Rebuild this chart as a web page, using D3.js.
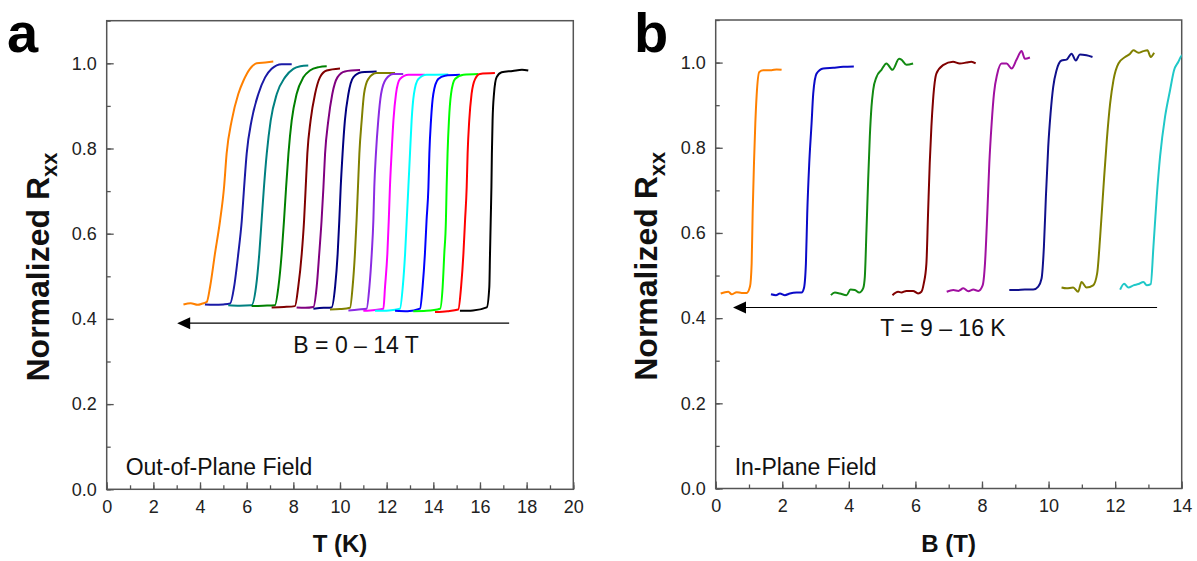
<!DOCTYPE html>
<html>
<head>
<meta charset="utf-8">
<script src="https://cdn.jsdelivr.net/npm/d3@7"></script>
<style>
  html, body { margin: 0; padding: 0; background: #fff; }
  svg { display: block; font-family: "Liberation Sans", Arial, sans-serif; }
</style>
</head>
<body>
<svg id="chart" width="1197" height="561"></svg>
<script>
// ---------------- tick labels ----------------
const tempTicks = [0, 2, 4, 6, 8, 10, 12, 14, 16, 18, 20];
const fieldTicks = [0, 2, 4, 6, 8, 10, 12, 14];
const rTicks = [0.0, 0.2, 0.4, 0.6, 0.8, 1.0];

// ---------------- panel a: R vs T, B = 14 ... 0 T (left to right) ----------------
const oopFields = [14, 13, 12, 11, 10, 9, 8, 7, 6, 5, 4, 3, 2, 1, 0];
const oopColors = ["#ff8000", "#1a1aa6", "#008080", "#008000", "#800000", "#800080", "#000080",
                   "#808000", "#8a2be2", "#ff00ff", "#00ffff", "#0000ff", "#00ff00", "#ff0000", "#000000"];
const oop14 = [[3.29,0.434],[3.6,0.437],[3.9,0.433],[4.1,0.436],[4.29,0.440],[4.43,0.475],[4.64,0.553],[4.86,0.631],[5.03,0.709],[5.14,0.788],[5.36,0.866],[5.64,0.928],[5.86,0.959],[6.14,0.987],[6.43,1.0],[6.8,1.002],[7.14,1.004]];
const oop13 = [[4.21,0.434],[4.6,0.433],[5.0,0.434],[5.29,0.436],[5.46,0.475],[5.64,0.553],[5.79,0.631],[5.89,0.709],[6.0,0.788],[6.21,0.866],[6.5,0.928],[6.79,0.967],[7.07,0.987],[7.5,0.998],[7.93,0.998]];
const oop12 = [[5.21,0.432],[5.7,0.431],[6.21,0.432],[6.4,0.475],[6.54,0.553],[6.64,0.631],[6.74,0.709],[6.86,0.788],[7.03,0.866],[7.29,0.928],[7.64,0.967],[8.0,0.987],[8.3,0.993],[8.64,0.995]];
const oop11 = [[6.21,0.430],[6.7,0.431],[7.21,0.432],[7.36,0.475],[7.5,0.553],[7.6,0.631],[7.69,0.709],[7.79,0.788],[7.93,0.866],[8.14,0.928],[8.43,0.967],[8.71,0.983],[9.1,0.991],[9.43,0.993]];
const oop10 = [[7.07,0.427],[7.6,0.428],[8.07,0.430],[8.21,0.475],[8.36,0.553],[8.46,0.631],[8.53,0.709],[8.6,0.788],[8.74,0.866],[8.93,0.928],[9.14,0.967],[9.43,0.983],[10.0,0.988]];
const oop9 = [[8.14,0.427],[8.5,0.426],[8.86,0.428],[9.0,0.475],[9.11,0.553],[9.21,0.631],[9.29,0.709],[9.36,0.788],[9.5,0.866],[9.67,0.928],[9.89,0.967],[10.21,0.981],[10.86,0.984]];
const oop8 = [[8.86,0.424],[9.3,0.426],[9.64,0.427],[9.79,0.475],[9.9,0.553],[9.97,0.631],[10.03,0.709],[10.11,0.788],[10.21,0.866],[10.36,0.928],[10.57,0.967],[10.93,0.979],[11.57,0.981]];
const oop7 = [[9.57,0.422],[10.0,0.423],[10.43,0.426],[10.54,0.475],[10.64,0.553],[10.71,0.631],[10.77,0.709],[10.83,0.788],[10.93,0.866],[11.03,0.928],[11.21,0.963],[11.57,0.977],[12.36,0.977]];
const oop6 = [[10.36,0.420],[10.8,0.422],[11.14,0.424],[11.26,0.475],[11.36,0.553],[11.43,0.631],[11.47,0.709],[11.54,0.788],[11.64,0.866],[11.76,0.928],[11.97,0.963],[12.29,0.975],[12.71,0.975]];
const oop5 = [[11.0,0.419],[11.5,0.421],[11.86,0.424],[11.93,0.475],[12.03,0.553],[12.09,0.631],[12.14,0.709],[12.21,0.788],[12.29,0.866],[12.4,0.928],[12.57,0.963],[12.93,0.973],[13.64,0.973]];
const oop4 = [[11.5,0.419],[12.1,0.420],[12.57,0.424],[12.69,0.475],[12.79,0.553],[12.86,0.631],[12.93,0.709],[13.0,0.788],[13.07,0.866],[13.17,0.928],[13.36,0.963],[13.71,0.973],[14.64,0.974]];
const oop3 = [[12.36,0.419],[12.9,0.418],[13.43,0.424],[13.54,0.475],[13.64,0.553],[13.71,0.631],[13.79,0.709],[13.83,0.788],[13.9,0.866],[14.0,0.928],[14.21,0.963],[14.5,0.971],[15.14,0.973]];
const oop2 = [[13.14,0.418],[13.7,0.419],[14.29,0.424],[14.4,0.475],[14.47,0.553],[14.54,0.631],[14.57,0.709],[14.61,0.788],[14.67,0.866],[14.76,0.928],[14.93,0.963],[15.29,0.973],[15.93,0.975]];
const oop1 = [[14.07,0.416],[14.6,0.418],[15.07,0.422],[15.19,0.475],[15.29,0.553],[15.36,0.631],[15.43,0.709],[15.47,0.788],[15.54,0.866],[15.64,0.928],[15.79,0.963],[16.0,0.975],[16.64,0.977]];
const oop0 = [[15.14,0.419],[15.7,0.420],[16.29,0.427],[16.4,0.475],[16.43,0.553],[16.46,0.631],[16.49,0.709],[16.51,0.788],[16.54,0.866],[16.6,0.928],[16.71,0.967],[16.93,0.979],[17.4,0.982],[17.8,0.985],[18.07,0.983]];
const oopCurves = [oop14, oop13, oop12, oop11, oop10, oop9, oop8, oop7, oop6, oop5, oop4, oop3, oop2, oop1, oop0];

// ---------------- panel b: R vs B, T = 16 ... 9 K (left to right) ----------------
const ipTemps = [16, 15, 14, 13, 12, 11, 10, 9];
const ipColors = ["#ff8000", "#0a0ac8", "#128a12", "#800000", "#a010a0", "#10108c", "#808000", "#20c8c8"];
const ip16 = [[0.15,0.458],[0.28,0.461],[0.38,0.462],[0.48,0.456],[0.63,0.461],[0.78,0.459],[0.93,0.459],[1.03,0.474],[1.08,0.528],[1.11,0.646],[1.15,0.763],[1.19,0.857],[1.23,0.923],[1.31,0.978],[1.43,0.982],[1.68,0.982],[1.83,0.984],[1.98,0.983]];
const ip15 = [[1.66,0.456],[1.81,0.454],[1.93,0.458],[2.08,0.454],[2.23,0.458],[2.43,0.460],[2.58,0.460],[2.65,0.470],[2.71,0.528],[2.75,0.646],[2.81,0.763],[2.88,0.857],[2.93,0.927],[3.03,0.974],[3.23,0.986],[3.53,0.988],[3.83,0.990],[4.15,0.991]];
const ip14 = [[3.46,0.454],[3.58,0.460],[3.73,0.458],[3.93,0.454],[4.05,0.467],[4.18,0.466],[4.31,0.460],[4.43,0.470],[4.48,0.497],[4.53,0.606],[4.58,0.724],[4.63,0.826],[4.68,0.896],[4.73,0.935],[4.83,0.966],[4.98,0.983],[5.13,0.998],[5.31,0.983],[5.51,1.009],[5.58,1.007],[5.73,0.995],[5.93,0.998]];
const ip13 = [[5.31,0.454],[5.48,0.462],[5.58,0.460],[5.73,0.464],[5.93,0.464],[6.08,0.458],[6.18,0.462],[6.25,0.481],[6.33,0.528],[6.38,0.646],[6.43,0.763],[6.48,0.849],[6.53,0.912],[6.63,0.974],[6.83,0.994],[7.13,1.002],[7.33,0.998],[7.53,1.000],[7.68,1.002],[7.81,0.998]];
const ip12 = [[6.94,0.462],[7.14,0.466],[7.29,0.464],[7.44,0.470],[7.59,0.463],[7.74,0.467],[7.89,0.464],[8.02,0.477],[8.09,0.528],[8.16,0.646],[8.22,0.763],[8.29,0.857],[8.36,0.927],[8.46,0.974],[8.59,0.998],[8.74,0.998],[8.89,0.986],[9.04,1.007],[9.19,1.027],[9.29,1.009],[9.44,1.012]];
const ip11 = [[8.82,0.466],[9.04,0.466],[9.29,0.467],[9.54,0.467],[9.69,0.474],[9.79,0.493],[9.86,0.567],[9.92,0.685],[9.99,0.802],[10.06,0.880],[10.14,0.943],[10.24,0.982],[10.39,1.005],[10.54,1.007],[10.69,1.021],[10.82,1.005],[10.94,1.019],[11.14,1.017],[11.32,1.013]];
const ip10 = [[10.39,0.472],[10.54,0.470],[10.74,0.472],[10.89,0.462],[10.99,0.485],[11.14,0.472],[11.34,0.477],[11.46,0.505],[11.55,0.591],[11.65,0.708],[11.75,0.818],[11.85,0.904],[11.95,0.959],[12.10,0.998],[12.30,1.013],[12.45,1.021],[12.55,1.029],[12.70,1.023],[12.85,1.027],[12.97,1.029],[13.07,1.013],[13.17,1.023]];
const ip9 = [[12.15,0.467],[12.27,0.481],[12.40,0.472],[12.55,0.477],[12.70,0.480],[12.85,0.485],[12.95,0.477],[13.07,0.480],[13.15,0.567],[13.25,0.685],[13.35,0.779],[13.50,0.873],[13.65,0.935],[13.77,0.982],[13.90,1.002],[13.97,1.013],[14.05,1.020]];
const ipCurves = [ip16, ip15, ip14, ip13, ip12, ip11, ip10, ip9];

// ---------------- drawing ----------------
const svg = d3.select("#chart");
const FONT = '"Liberation Sans", Arial, sans-serif';
const axisColor = "#555";

function panel(cfg) {
  const x = d3.scaleLinear().domain(cfg.xDomain).range([cfg.left, cfg.right]);
  const y = d3.scaleLinear().domain([0, 1.1]).range([cfg.bottom, cfg.top]);
  const g = svg.append("g");

  const clipId = "clip-" + cfg.id;
  svg.append("clipPath").attr("id", clipId).append("rect")
    .attr("x", cfg.left).attr("y", cfg.top)
    .attr("width", cfg.right - cfg.left).attr("height", cfg.bottom - cfg.top);

  // minor ticks
  const xMinor = d3.range(cfg.xDomain[0], cfg.xDomain[1] + 0.001, 1);
  const yMinor = d3.range(0, 1.101, 0.1);
  g.append("g").attr("transform", `translate(0,${cfg.bottom})`)
    .call(d3.axisBottom(x).tickValues(xMinor).tickSize(-4).tickFormat(""))
    .call(a => a.select(".domain").remove())
    .call(a => a.selectAll("line").attr("stroke", axisColor).attr("stroke-width", 1.3));
  g.append("g").attr("transform", `translate(${cfg.left},0)`)
    .call(d3.axisLeft(y).tickValues(yMinor).tickSize(-4).tickFormat(""))
    .call(a => a.select(".domain").remove())
    .call(a => a.selectAll("line").attr("stroke", axisColor).attr("stroke-width", 1.3));

  // major ticks + labels
  g.append("g").attr("transform", `translate(0,${cfg.bottom})`)
    .call(d3.axisBottom(x).tickValues(cfg.xTicks).tickSize(-7).tickPadding(11).tickFormat(d3.format("d")))
    .call(a => a.select(".domain").remove())
    .call(a => a.selectAll("line").attr("stroke", axisColor).attr("stroke-width", 1.3))
    .call(a => a.selectAll("text").attr("font-size", 18).attr("font-family", FONT).attr("fill", "#222"));
  g.append("g").attr("transform", `translate(${cfg.left},0)`)
    .call(d3.axisLeft(y).tickValues(rTicks).tickSize(-7).tickPadding(10).tickFormat(d3.format(".1f")))
    .call(a => a.select(".domain").remove())
    .call(a => a.selectAll("line").attr("stroke", axisColor).attr("stroke-width", 1.3))
    .call(a => a.selectAll("text").attr("font-size", 18).attr("font-family", FONT).attr("fill", "#222"));

  // frame
  g.append("rect")
    .attr("x", cfg.left).attr("y", cfg.top)
    .attr("width", cfg.right - cfg.left).attr("height", cfg.bottom - cfg.top)
    .attr("fill", "none").attr("stroke", axisColor).attr("stroke-width", 1.5);

  // curves
  const line = d3.line().x(d => x(d[0])).y(d => y(d[1])).curve(d3.curveMonotoneX);
  g.append("g").attr("clip-path", `url(#${clipId})`)
    .selectAll("path").data(cfg.curves).join("path")
    .attr("d", line)
    .attr("fill", "none")
    .attr("stroke", (d, i) => cfg.colors[i])
    .attr("stroke-width", 2)
    .attr("stroke-linejoin", "round");

  // arrow
  const ay = y(cfg.arrow.r);
  const x0 = x(cfg.arrow.from), x1 = x(cfg.arrow.to);
  g.append("line").attr("x1", x0).attr("x2", x1 + 12).attr("y1", ay).attr("y2", ay)
    .attr("stroke", "#000").attr("stroke-width", 1.2);
  g.append("path")
    .attr("d", `M${x1},${ay} L${x1 + 13},${ay - 6} L${x1 + 13},${ay + 6} Z`)
    .attr("fill", "#000");
  g.append("text").attr("x", x(cfg.arrow.textX)).attr("y", y(cfg.arrow.textR))
    .attr("font-size", 23).attr("font-family", FONT).attr("fill", "#111")
    .text(cfg.arrow.text);

  // field label
  g.append("text").attr("x", cfg.left + 19).attr("y", cfg.bottom - 14)
    .attr("font-size", 23).attr("font-family", FONT).attr("fill", "#111")
    .text(cfg.note);

  // axis titles
  g.append("text").attr("x", (cfg.left + cfg.right) / 2).attr("y", 552)
    .attr("text-anchor", "middle").attr("font-size", 24).attr("font-weight", "bold")
    .attr("font-family", FONT).attr("fill", "#111").text(cfg.xTitle);
  const yt = g.append("text")
    .attr("transform", `translate(${cfg.yTitleX},${(cfg.top + cfg.bottom) / 2 + 12}) rotate(-90)`)
    .attr("text-anchor", "middle").attr("font-size", 32).attr("font-weight", "bold")
    .attr("font-family", FONT).attr("fill", "#111");
  yt.append("tspan").text("Normalized R");
  yt.append("tspan").attr("font-size", 22).attr("dy", 8).text("xx");

  // panel letter
  g.append("text").attr("x", cfg.letterX).attr("y", 52)
    .attr("font-size", 56).attr("font-weight", "bold").attr("font-family", FONT)
    .attr("fill", "#000").text(cfg.letter);
}

panel({
  id: "a", letter: "a", letterX: 7,
  left: 106.7, right: 573.3, top: 20.7, bottom: 489.3,
  xDomain: [0, 20], xTicks: tempTicks,
  curves: oopCurves, colors: oopColors,
  arrow: { r: 0.39, from: 17.25, to: 3.02, text: "B = 0 \u2013 14 T", textX: 8.0, textR: 0.3195 },
  note: "Out-of-Plane Field", xTitle: "T (K)", yTitleX: 49
});

panel({
  id: "b", letter: "b", letterX: 634,
  left: 715.7, right: 1181.7, top: 20, bottom: 488.5,
  xDomain: [0, 14], xTicks: fieldTicks,
  curves: ipCurves, colors: ipColors,
  arrow: { r: 0.425, from: 13.26, to: 0.52, text: "T = 9 \u2013 16 K", textX: 4.94, textR: 0.357 },
  note: "In-Plane Field", xTitle: "B (T)", yTitleX: 657
});
</script>
</body>
</html>
